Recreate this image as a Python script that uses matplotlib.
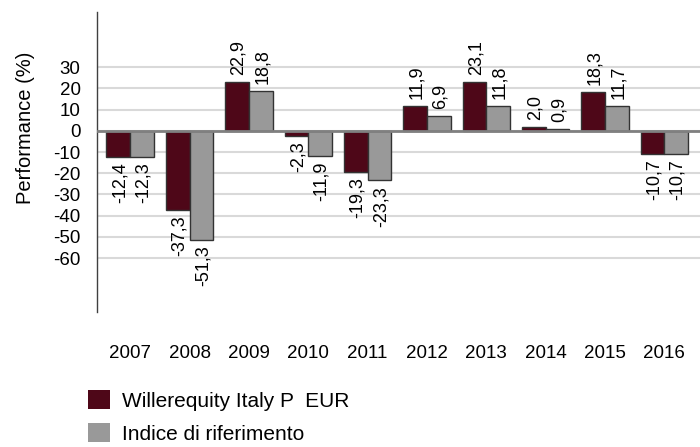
import numpy as np
import matplotlib
matplotlib.use("Agg")
from matplotlib import pyplot as plt
from matplotlib.patches import Patch

plt.rcParams['font.family'] = ['Liberation Sans', 'DejaVu Sans']

years = ["2007", "2008", "2009", "2010", "2011", "2012", "2013", "2014", "2015", "2016"]
fund = [-12.4, -37.3, 22.9, -2.3, -19.3, 11.9, 23.1, 2.0, 18.3, -10.7]
index = [-12.3, -51.3, 18.8, -11.9, -23.3, 6.9, 11.8, 0.9, 11.7, -10.7]
series_names = ["Willerequity Italy P  EUR", "Indice di riferimento"]
yticks = [30, 20, 10, 0, -10, -20, -30, -40, -50, -60]

c_fund = "#4e0718"
c_index = "#999999"

fig = plt.figure(figsize=(7, 4.47), dpi=100)
ax = fig.add_axes([0.139, 0.302, 0.861, 0.671])

x = np.arange(len(years))
w = 0.4
b1 = ax.bar(x - w / 2, fund, w, color=c_fund, edgecolor="#333333", linewidth=1, zorder=3)
b2 = ax.bar(x + w / 2, index, w, color=c_index, edgecolor="#333333", linewidth=1, zorder=3)

# etichette ruotate con virgola decimale
for bars, vals in ((b1, fund), (b2, index)):
    for r, v in zip(bars, vals):
        lab = ("%.1f" % v).replace(".", ",")
        cx = r.get_x() + r.get_width() / 2
        if v >= 0:
            ax.annotate(lab, (cx, v), xytext=(1, 5), textcoords="offset points",
                        rotation=90, ha="center", va="bottom", fontsize=13)
        else:
            ax.annotate(lab, (cx, v), xytext=(1, -4), textcoords="offset points",
                        rotation=90, ha="center", va="top", fontsize=13)

ax.set_xlim(-0.555, 9.6)
ax.set_ylim(-85.4, 56)
ax.set_yticks(yticks)
ax.set_yticklabels([str(t) for t in yticks])
ax.set_xticks(x)
ax.set_xticklabels(years)
ax.tick_params(axis="y", length=0, pad=12, labelsize=13.5)
ax.tick_params(axis="x", length=0, pad=24, labelsize=13.5)

ax.grid(axis="y", color="#d9d9d9", linewidth=1.5, zorder=0)
ax.axhline(0, color="#808080", linewidth=2, zorder=4)

for s in ("top", "right", "bottom"):
    ax.spines[s].set_visible(False)
ax.spines["left"].set_color("#404040")
ax.spines["left"].set_linewidth(1)

ax.set_ylabel("Performance (%)", fontsize=14.5)
ax.yaxis.set_label_coords(-0.104, 0.613)

handles = [Patch(facecolor=c_fund, edgecolor="none"),
           Patch(facecolor=c_index, edgecolor="none")]
fig.legend(handles, series_names, loc="upper left", bbox_to_anchor=(0.126, 1 - 390 / 447),
           frameon=False, fontsize=15, handlelength=1.05, handleheight=1.05,
           handletextpad=0.57, labelspacing=0.58, borderpad=0, borderaxespad=0)

fig.savefig("out.png", dpi=100)
